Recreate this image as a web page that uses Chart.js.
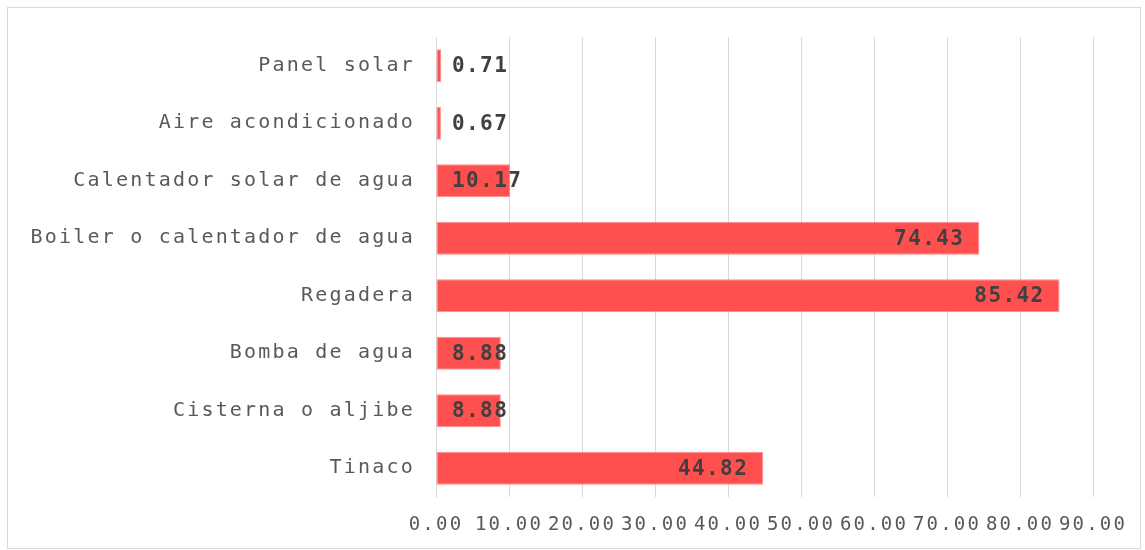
<!DOCTYPE html>
<html>
<head>
<meta charset="utf-8">
<script src="https://cdn.jsdelivr.net/npm/chart.js@4.4.0/dist/chart.umd.min.js"></script>
<style>
  html, body { margin: 0; padding: 0; background: #fff; }
  #wrap { position: relative; width: 1145px; height: 550px; }
</style>
</head>
<body>
<div id="wrap"><canvas id="chart"></canvas></div>
<script>
// data
const categories = ['Panel solar', 'Aire acondicionado', 'Calentador solar de agua', 'Boiler o calentador de agua', 'Regadera', 'Bomba de agua', 'Cisterna o aljibe', 'Tinaco'];
const values = [0.71, 0.67, 10.17, 74.43, 85.42, 8.88, 8.88, 44.82];
const xTicks = [0, 10, 20, 30, 40, 50, 60, 70, 80, 90];

const monoFont = '"DejaVu Sans Mono", "Liberation Mono", monospace';

// canvas letter spacing (gets reset when canvas resizes)
const spacingPlugin = {
    id: 'spacing',
    beforeUpdate(chart) { chart.ctx.letterSpacing = '2.2px'; },
    beforeLayout(chart) { chart.ctx.letterSpacing = '2.2px'; },
    beforeDraw(chart) { chart.ctx.letterSpacing = '2.2px'; }
};

// outer frame
const framePlugin = {
    id: 'frame',
    beforeDraw(chart) {
        const ctx = chart.ctx;
        ctx.save();
        ctx.strokeStyle = '#d9d9d9';
        ctx.lineWidth = 1;
        ctx.strokeRect(7.5, 7.5, 1133, 541);
        ctx.restore();
    }
};

// value labels at the end of the bars
const valueLabels = {
    id: 'valueLabels',
    afterDatasetsDraw(chart) {
        const ctx = chart.ctx;
        const left = chart.chartArea.left;
        ctx.save();
        ctx.letterSpacing = '1.4px';
        ctx.font = 'bold 21px ' + monoFont;
        ctx.fillStyle = '#404040';
        ctx.textBaseline = 'middle';
        ctx.textAlign = 'left';
        chart.getDatasetMeta(0).data.forEach((bar, i) => {
            const txt = values[i].toFixed(2);
            const w = ctx.measureText(txt).width;
            const x = Math.max(bar.x - 15 - w, left + 16);
            ctx.fillText(txt, x, bar.y + 1);
        });
        ctx.restore();
    }
};

const ctx = document.querySelector('#chart').getContext('2d');

let barChart = new Chart(ctx, {
    type: 'bar',
    data: {
        labels: categories,
        datasets: [{
            data: values,
            backgroundColor: '#ff5050',
            borderColor: '#ff8a8a',
            borderWidth: 1,
            borderSkipped: false,
            barPercentage: 0.57,
            categoryPercentage: 1
        }]
    },
    options: {
        indexAxis: 'y',
        responsive: true,
        maintainAspectRatio: false,
        animation: false,
        layout: {
            padding: { top: 37, right: 52, left: 0, bottom: 0 }
        },
        plugins: {
            legend: { display: false },
            tooltip: { enabled: false }
        },
        scales: {
            x: {
                min: 0,
                max: 90,
                afterBuildTicks: (scale) => {
                    scale.ticks = xTicks.map(v => ({ value: v }));
                },
                afterFit: (scale) => { scale.height = 53; },
                grid: {
                    color: '#d9d9d9',
                    lineWidth: 1,
                    drawTicks: false
                },
                border: { display: false },
                ticks: {
                    padding: 17,
                    color: '#595959',
                    font: { family: monoFont, size: 19 },
                    maxRotation: 0,
                    autoSkip: false,
                    callback: (v) => Number(v).toFixed(2)
                }
            },
            y: {
                afterFit: (scale) => { scale.width = 436; },
                grid: { display: false },
                border: { display: true, color: '#d9d9d9', width: 1 },
                ticks: {
                    padding: 13,
                    color: '#595959',
                    font: { family: monoFont, size: 20 },
                    autoSkip: false
                }
            }
        }
    },
    plugins: [spacingPlugin, framePlugin, valueLabels]
});
</script>
</body>
</html>
